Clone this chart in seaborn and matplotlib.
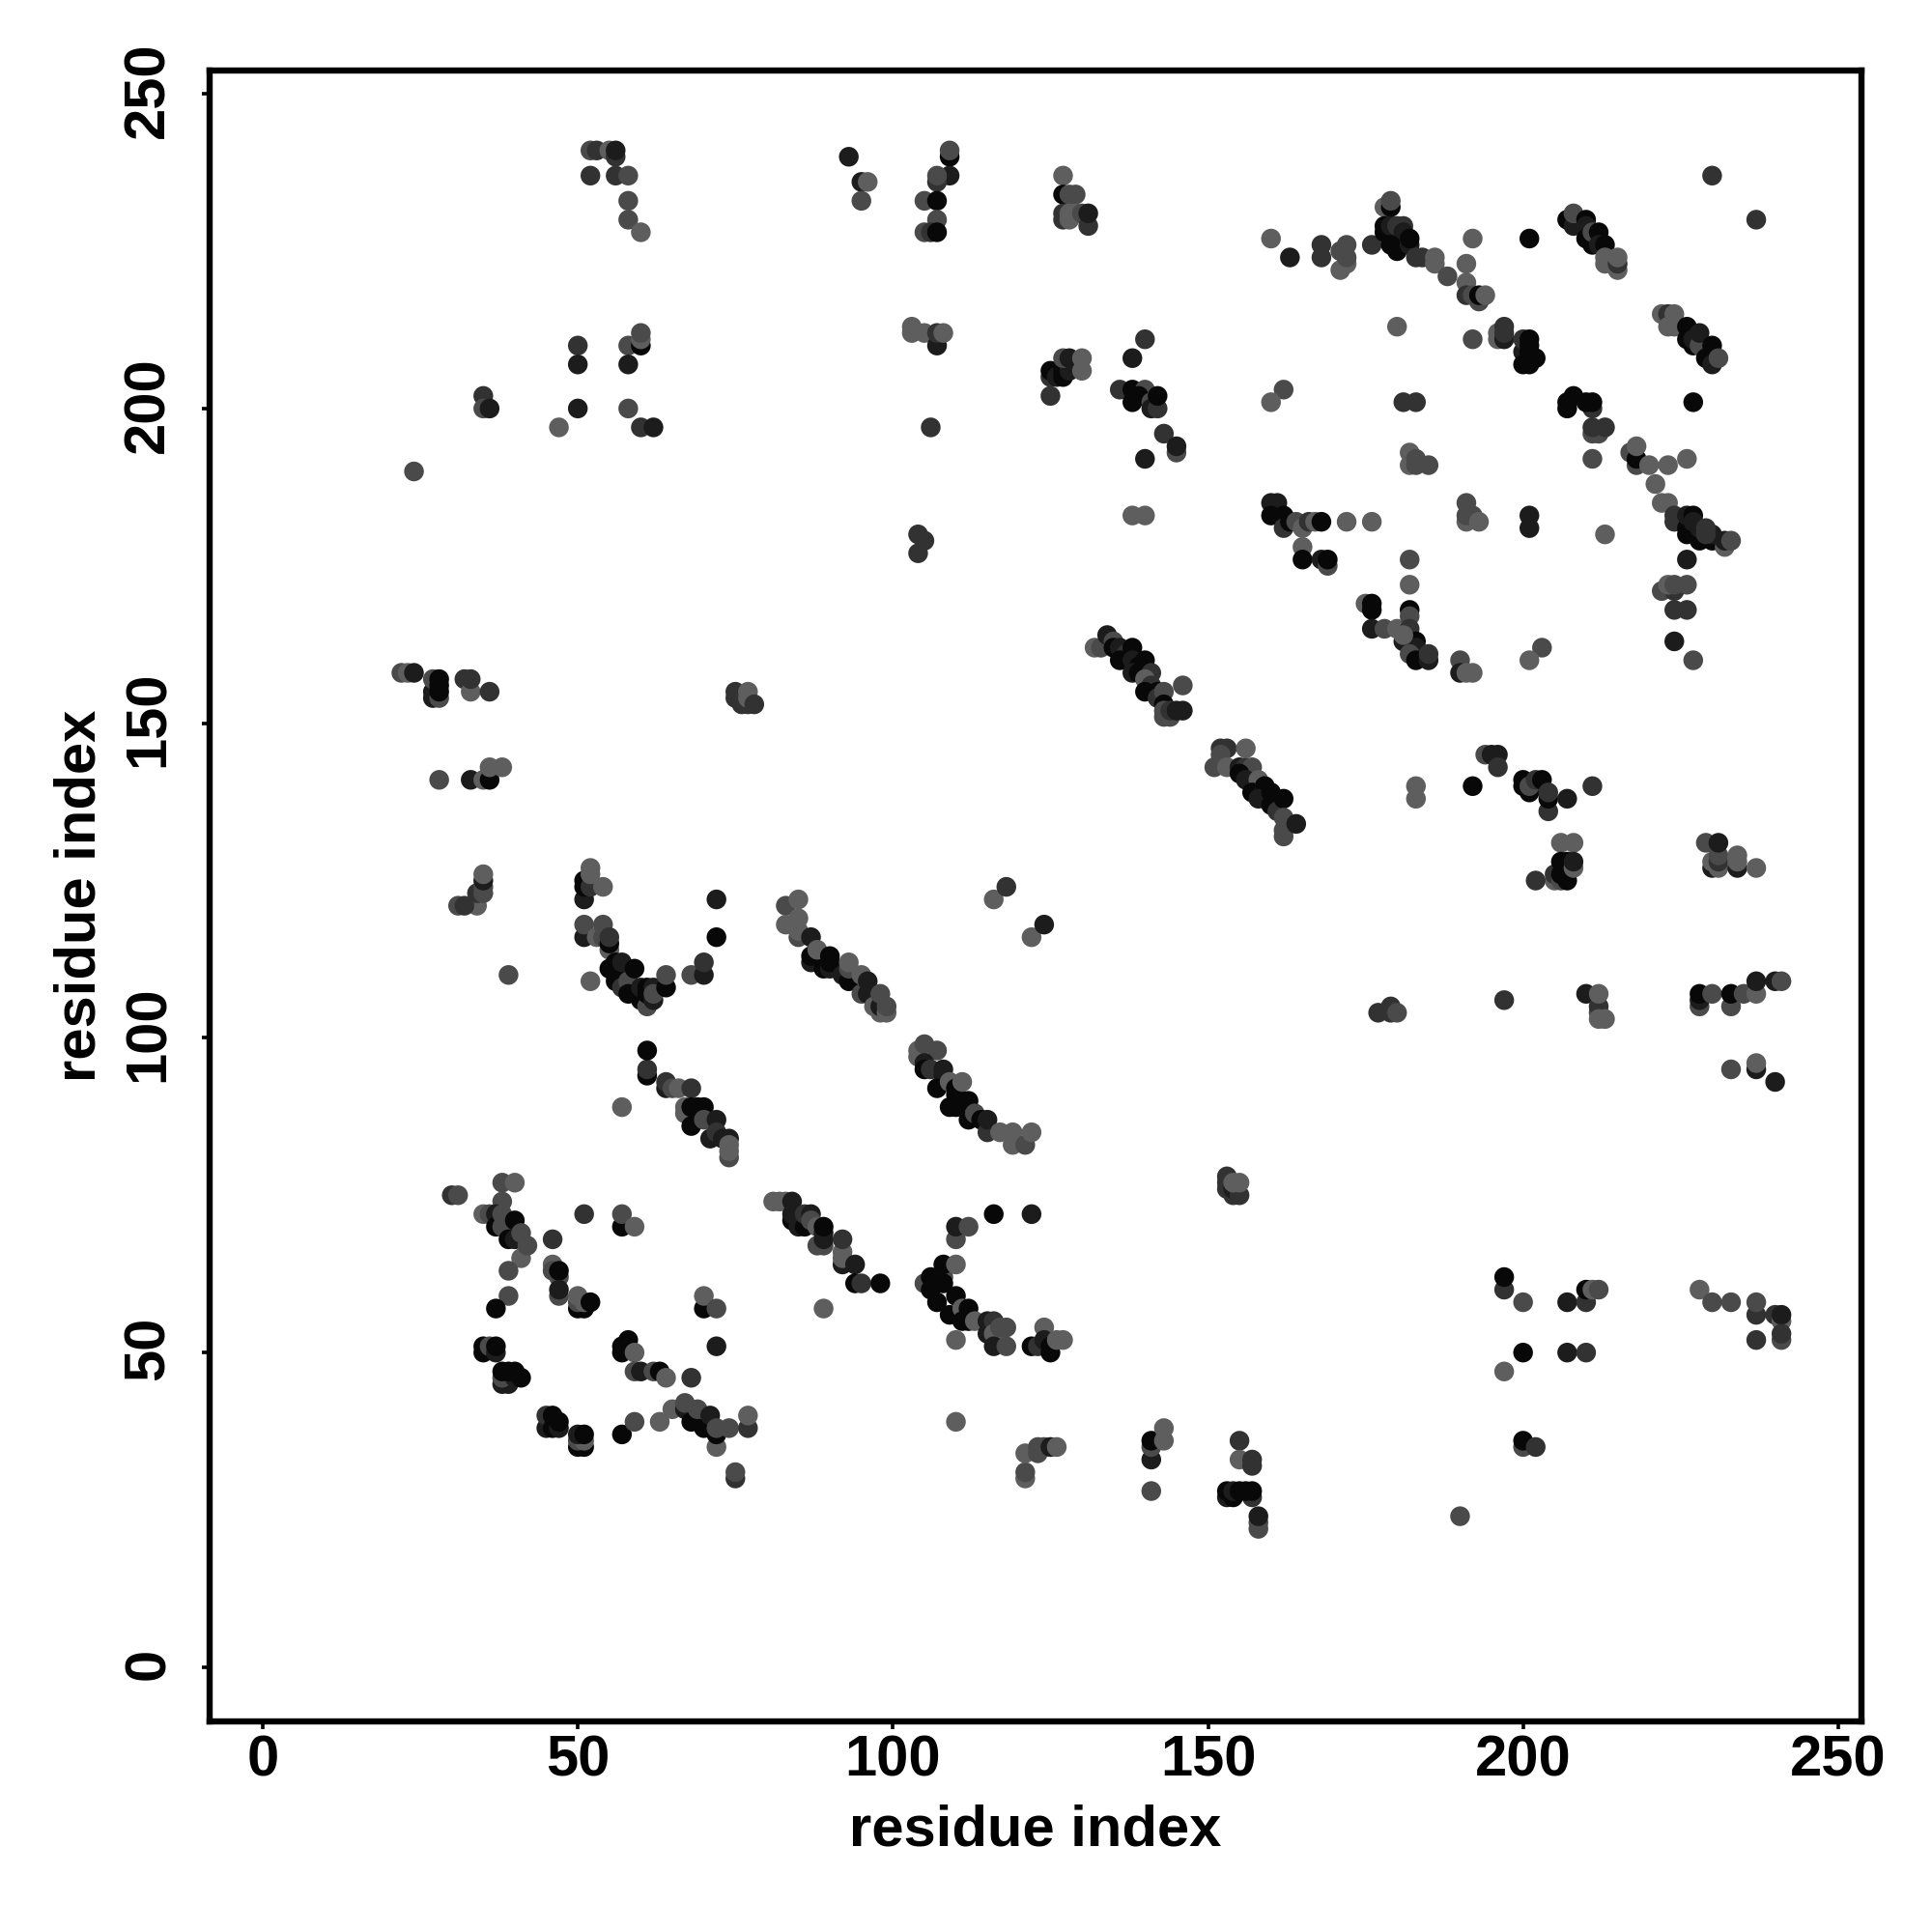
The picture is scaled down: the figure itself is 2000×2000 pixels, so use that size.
from matplotlib import pyplot as plt
from matplotlib.transforms import ScaledTranslation
import pandas as pd
import seaborn as sns

# contacts as (residue i, residue j, strength level), 0 = strongest
top_left = [(52,241,3),(53,241,2),(55,241,4),(56,240,2),(56,241,1),(52,237,2),(56,237,2),(58,237,3),
            (58,233,3),(58,230,3),(60,228,4),(93,240,1),(95,236,1),(96,236,4),(95,233,3),
            (50,210,2),(50,207,1),(58,210,3),(60,210,0),(60,211,4),(60,212,3),(58,207,1),(50,200,1),
            (58,200,3),(47,197,4),(60,197,2),(62,197,1),(35,202,2),(35,200,3),(36,200,1),(24,190,3)]
top_mid = [(109,240,0),(109,241,3),(109,237,1),(107,236,2),(107,237,3),(105,233,3),(107,233,0),(107,230,3),
           (105,228,3),(106,228,2),(107,228,0),(127,237,4),(127,234,0),(128,234,3),(129,234,3),
           (127,230,2),(127,231,2),(128,230,4),(128,231,4),(129,231,4),(130,231,3),(131,229,2),(131,231,1),
           (103,213,4),(103,212,4),(105,212,4),(107,210,1),(107,212,2),(108,212,4),
           (125,205,2),(125,206,0),(126,205,1),(127,205,0),(127,206,0),(128,206,1),(127,208,3),(128,208,1),
           (130,206,4),(130,208,4),(125,202,2),(140,211,2),(138,208,1),(136,203,2),(138,203,0),(140,203,3),
           (138,201,0),(139,202,0),(141,201,3),(141,200,1),(142,200,2),(142,202,0),(143,196,2),
           (145,193,3),(145,194,1),(140,192,1),(106,197,2),(138,183,4),(140,183,4),
           (104,177,2),(104,180,2),(105,179,2),(162,203,3),(160,201,4)]
top_right = [(230,237,2),(237,230,2),(168,226,2),(168,224,2),(171,222,4),(172,223,4),(171,225,3),(172,224,3),
             (172,226,3),(176,226,2),(160,227,4),(163,224,1),(178,232,4),(179,232,0),(179,233,3),
             (178,229,0),(178,228,0),(179,229,1),(180,229,2),(181,229,2),(181,228,1),(179,226,0),(180,225,0),
             (182,226,1),(183,224,2),(184,224,2),(182,227,0),(186,223,4),(186,224,4),(188,221,3),
             (192,227,4),(191,223,4),(191,220,4),(191,218,2),(192,218,3),(193,217,3),(193,218,0),(194,218,4),
             (201,227,0),(180,213,4),(192,211,3),(196,211,4),(196,212,4),(197,211,1),(197,212,2),(197,213,2),
             (200,209,1),(200,211,2),(201,211,0),(201,210,0),(200,207,0),(201,207,0),(201,209,0),(202,208,0),
             (207,230,0),(208,229,1),(208,231,3),(210,230,0),(210,229,1),(210,227,0),(211,226,0),(211,228,3),
             (212,228,0),(212,226,1),(213,226,0),(213,223,4),(213,224,4),(215,222,4),(215,223,2),(215,224,4),
             (222,215,4),(223,215,2),(224,215,4),(223,213,4),(224,213,4),(226,213,0),(226,211,0),(227,210,0),
             (227,211,1),(228,210,3),(228,212,1),(230,210,0),(229,208,0),(230,207,1),(231,208,3)]
upper_right = [(227,201,0),(181,201,2),(183,201,2),(207,200,0),(207,201,0),(208,202,0),(211,200,2),(210,201,0),
               (211,201,0),(211,196,3),(212,196,3),(211,197,2),(213,197,2),(211,192,3),(217,193,3),(218,191,3),
               (218,192,0),(218,194,4),(220,191,4),(221,188,4),(223,191,4),(226,192,4),
               (182,193,4),(182,191,4),(183,192,3),(183,191,3),(185,191,3),(191,185,3),(191,182,4),(191,183,3),
               (192,183,3),(193,182,4),(201,183,1),(201,181,1),(213,180,4),
               (222,185,4),(223,185,4),(224,182,2),(224,183,2),(226,181,0),(226,180,0),(226,183,1),(227,183,0),
               (227,182,1),(228,179,0),(228,181,1),(230,179,0),(230,180,1),(229,180,2),(229,181,2),
               (232,178,4),(232,179,1),(233,179,3),(226,176,1),(222,171,3),(224,171,2),(223,172,4),(224,172,3),
               (226,172,3),(224,168,2),(226,168,2),(224,163,1),(227,160,3)]
ring = [(160,185,1),(161,185,1),(160,183,0),(162,183,0),(162,181,2),(163,182,0),(164,182,3),(165,181,4),
        (166,182,2),(167,182,4),(168,182,0),(172,182,4),(176,182,4),(165,178,4),(165,176,0),(168,176,1),
        (169,175,3),(169,176,0),(182,176,3),(182,172,4),(175,169,4),(176,169,0),(176,168,0),(176,165,1),
        (178,165,3),(180,165,4),(182,168,0),(182,167,3),(182,165,2),(181,163,1),(182,163,1),(183,163,0),
        (183,162,1),(182,161,3),(181,164,4),(183,160,0),(185,160,1),(185,161,2),
        (190,160,3),(190,158,1),(191,158,4),(192,158,4),(203,162,3),(201,160,4)]
strand_a = [(132,162,4),(133,162,3),(134,164,1),(135,163,3),(135,162,0),(136,162,1),(137,161,2),(136,160,0),
            (138,162,0),(138,160,1),(139,159,0),(138,158,1),(140,160,0),(139,158,0),(141,158,2),(140,157,4),
            (141,156,2),(140,155,0),(142,155,0),(142,154,2),(143,155,3),(143,153,0),(143,152,3),(143,151,3),
            (144,151,3),(144,152,2),(145,152,1),(146,152,1),(146,156,3)]
strand_b = [(152,146,2),(153,146,2),(152,145,3),(152,144,3),(151,143,3),(153,143,4),(155,143,1),(156,143,2),
            (157,143,3),(156,146,4),(155,142,0),(156,141,1),(158,141,4),(157,139,0),(159,140,3),(159,140,0),
            (158,138,1),(160,139,0),(160,137,0),(161,136,2),(162,138,0),(162,132,3),(162,133,3),(162,135,3),
            (164,134,1)]
mid_left = [(22,158,3),(23,158,4),(24,158,1),(27,154,1),(27,155,1),(27,157,3),(28,154,3),(28,155,0),(28,156,0),
            (28,157,0),(32,157,2),(33,155,4),(33,157,2),(36,155,2),
            (28,141,3),(33,141,1),(35,141,4),(36,141,0),(36,143,4),(38,143,4),
            (34,121,4),(31,121,3),(32,121,2),(34,123,2),(35,123,3),(35,124,3),(35,125,1),(35,126,4),(39,110,3),
            (75,154,2),(75,155,2),(76,153,2),(77,153,2),(77,154,4),(77,155,4),(78,153,2)]
v_shape = [(51,122,1),(51,124,0),(51,125,0),(52,124,2),(52,126,4),(52,127,4),(54,124,4),
           (51,116,1),(51,118,3),(53,116,4),(54,116,3),(54,118,3),(55,114,4),(55,115,0),(55,116,2),(52,109,4),
           (55,111,0),(56,112,0),(56,110,0),(57,112,1),(56,109,0),(57,108,2),(58,109,3),(59,111,0),(58,107,0),
           (60,106,0),(60,108,1),(61,105,3),(61,107,0),(61,108,0),(62,106,1),(62,108,1),(62,107,3),
           (64,108,0),(64,110,3),(68,110,3),(70,110,1),(70,112,2),(72,122,1),(72,116,0)]
strand_c = [(83,121,3),(85,122,4),(83,118,4),(85,119,4),(85,116,3),(85,117,4),(87,116,1),(87,112,1),(87,113,0),
            (88,114,4),(89,111,0),(90,111,1),(90,112,0),(90,113,0),(92,110,1),(93,109,0),(93,111,3),(93,112,4),
            (95,107,3),(95,110,4),(96,107,1),(96,109,1),(97,105,4),(98,104,4),(98,105,1),(99,104,4),(98,107,3),(99,105,3)]
strand_d = [(61,94,0),(61,95,2),(61,98,0),(64,92,1),(64,93,2),(65,92,3),(66,92,4),(68,92,2),(57,89,4),
            (67,88,4),(67,89,4),(68,89,0),(69,89,0),(70,89,0),(68,86,0),(70,87,3),(71,84,1),(72,87,1),(72,85,2),
            (73,84,1),(74,84,1),(74,81,3),(74,82,4),(74,83,4)]
strand_e = [(104,97,4),(104,98,4),(105,99,3),(107,98,3),(105,96,1),(105,95,0),(106,95,2),(108,95,1),(108,94,1),
            (107,92,0),(109,93,4),(110,92,0),(110,91,0),(109,89,0),(110,89,0),(111,93,4),(112,90,0),(112,87,0),
            (113,88,3),(114,87,0),(115,85,2),(115,87,1),(117,85,4),(119,83,4),(119,85,4),(121,83,3),(122,85,4),
            (116,122,4),(118,124,2),(122,116,4),(124,118,1),(153,76,2),(153,77,2),(153,78,2),(154,75,2),(154,76,1),
            (155,75,2),(154,77,4),(155,77,4)]
strand_f = [(81,74,4),(82,74,4),(83,74,4),(84,74,1),(84,71,0),(84,72,1),(85,70,1),(86,70,0),(86,72,2),(87,72,1),
            (87,71,3),(88,67,3),(88,70,4),(89,67,3),(89,68,1),(89,69,1),(89,70,0),(92,64,1),(92,65,4),(92,66,4),
            (92,68,2),(94,64,1),(94,61,0),(95,61,2),(98,61,0),(89,57,4)]
strand_g = [(116,72,0),(122,72,1),(110,68,3),(110,70,1),(112,70,3),(108,62,3),(108,64,0),(110,64,4),(105,61,3),
            (106,62,0),(106,60,0),(108,61,0),(107,58,0),(109,56,0),(110,59,0),(111,57,4),(111,55,0),(112,55,0),
            (112,57,0),(113,55,4),(115,53,1),(115,55,1),(116,55,2),(116,53,4),(116,51,1),(117,54,3),(118,51,3),
            (118,54,3),(110,52,4),(122,51,0),(123,51,2),(124,54,4),(124,52,1),(125,50,0),(125,51,0),(126,52,4),(127,52,4)]
right_mid = [(183,140,4),(183,138,4),(192,140,0),(194,145,3),(195,145,1),(196,145,1),(196,143,2),
             (200,140,0),(200,141,0),(201,139,0),(201,140,3),(202,141,2),(203,141,0),(204,136,2),(204,138,0),
             (204,139,2),(207,138,1),(211,140,2),(206,131,4),(208,131,4),(205,125,4),(205,126,2),(206,125,3),
             (206,128,0),(206,126,0),(207,125,0),(207,128,0),(208,127,4),(208,128,1),(202,125,2),
             (229,131,3),(230,127,1),(230,128,4),(231,127,4),(231,128,2),(231,129,3),(231,131,1),
             (234,127,1),(234,128,4),(234,129,4),(237,127,4),
             (177,104,2),(179,104,2),(179,105,2),(180,104,3),(197,106,2),(210,107,1),(212,104,3),(212,105,2),
             (212,107,4),(212,103,4),(213,103,4),(228,105,3),(228,106,1),(228,107,0),(230,107,3),(233,105,3),
             (233,107,0),(235,107,3),(237,107,4),(237,109,1),(240,109,1),(241,109,3),
             (233,95,3),(237,95,1),(237,96,4),(240,93,1)]
low_left = [(30,75,2),(31,75,3),(38,77,3),(40,77,4),(38,74,3),(35,72,4),(36,72,3),(37,72,1),(37,70,0),(38,72,3),
            (38,70,3),(39,68,0),(40,68,1),(40,71,0),(41,65,4),(41,69,3),(42,67,3),(39,63,3),(39,59,3),(37,57,0),
            (46,68,2),(46,64,4),(46,63,3),(47,62,3),(47,63,0),(47,59,3),(47,60,1),(50,57,0),(51,57,0),(50,58,3),
            (50,59,4),(51,58,4),(52,58,0),(51,72,2),(57,70,0),(57,72,3),(59,70,4),
            (35,50,0),(35,51,0),(36,51,3),(37,50,1),(37,51,0),(38,45,1),(39,45,1),(38,46,3),(40,46,1),(38,47,0),
            (39,47,0),(40,47,0),(41,46,0),(45,38,1),(45,40,2),(46,38,0),(46,40,0),(47,38,1),(47,39,0),
            (50,35,0),(51,35,0),(50,36,3),(51,36,4),(50,37,1),(51,37,0)]
low_mid = [(57,37,0),(59,39,3),(63,39,4),(65,41,4),(67,41,1),(67,42,3),(68,39,0),(69,41,3),(70,38,0),(71,40,1),
           (72,35,4),(72,37,0),(72,38,3),(74,38,3),(77,38,2),(77,40,4),(75,30,2),(75,31,3),
           (70,57,0),(70,59,4),(72,57,3),(72,51,1),(57,50,0),(57,51,0),(58,52,0),(59,50,4),(59,47,3),(60,47,1),
           (62,47,3),(63,47,0),(64,46,4),(68,46,2),(110,39,4),
           (121,30,4),(121,31,3),(121,34,4),(123,34,3),(123,35,3),(124,35,3),(125,35,1),(126,35,4),
           (141,28,3),(141,33,1),(141,35,3),(141,36,0),(143,36,4),(143,38,4),
           (155,36,2),(155,33,4),(157,32,2),(157,33,2),(153,27,1),(154,27,0),(157,27,2),(153,28,0),(154,28,1),
           (155,28,0),(156,28,0),(157,28,0),(158,22,3),(158,23,3),(158,24,1)]
low_right = [(197,60,2),(197,62,0),(200,58,3),(207,58,1),(210,58,2),(210,60,0),(211,60,4),(212,60,3),
             (200,50,0),(207,50,1),(210,50,2),(197,47,4),(200,35,3),(200,36,0),(202,35,2),(190,24,3),
             (228,60,4),(230,58,3),(233,58,3),(237,56,2),(237,58,3),(240,56,2),(241,55,4),(241,56,1),
             (237,52,2),(241,52,3),(241,53,2)]

tick_values = [0, 50, 100, 150, 200, 250]
axis_label = 'residue index'
grays = {0: '#080808', 1: '#1c1c1c', 2: '#323232', 3: '#4a4a4a', 4: '#5e5e5e'}

contacts = (top_left + top_mid + top_right + upper_right + ring + strand_a + strand_b + mid_left + v_shape
            + strand_c + strand_d + strand_e + strand_f + strand_g + right_mid + low_left + low_mid + low_right)
df = pd.DataFrame(contacts, columns=['i', 'j', 'level'])

sns.set_style('white')
plt.rcParams['font.family'] = ['Liberation Sans', 'DejaVu Sans']
plt.rcParams['font.weight'] = 'bold'
plt.rcParams['text.color'] = 'black'
plt.rcParams['axes.labelcolor'] = 'black'
plt.rcParams['xtick.color'] = 'black'
plt.rcParams['ytick.color'] = 'black'

f, ax = plt.subplots(figsize=(10, 10), dpi=200)
f.subplots_adjust(left=217/2000, right=1927/2000, top=1-73/2000, bottom=1-1782/2000)
sns.scatterplot(data=df, x='i', y='j', hue='level', palette=grays, s=54, linewidth=0, legend=False, ax=ax, zorder=3)

ax.set_xlim(-8.43, 253.7)
ax.set_ylim(-8.6, 253.7)
ax.set_xticks(tick_values)
ax.set_yticks(tick_values)
ax.set_xticklabels(tick_values, fontsize=21.5, fontweight='bold')
ax.set_yticklabels(tick_values, fontsize=21.5, fontweight='bold')
ax.tick_params(axis='both', length=3, width=1.3, left=True, bottom=True)
ax.tick_params(axis='x', pad=2)
ax.tick_params(axis='y', pad=14)
# nudge the rotated y labels up a little, they sit slightly high in the original
nudge = ScaledTranslation(0, 4/200, f.dpi_scale_trans)
for lbl in ax.get_yticklabels():
    lbl.set(rotation=90, rotation_mode='anchor', ha='center', va='baseline')
    lbl.set_transform(lbl.get_transform() + nudge)
for side in ax.spines.values():
    side.set_linewidth(2.3)
    side.set_color('black')
ax.set_xlabel(axis_label, fontsize=21.5, fontweight='bold', labelpad=6)
ax.set_ylabel(axis_label, fontsize=21.5, fontweight='bold', labelpad=6)

f.savefig('out.png', dpi=200, facecolor='white')
